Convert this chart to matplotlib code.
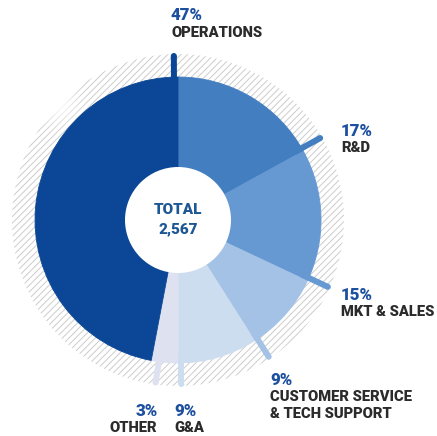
import numpy as np
import matplotlib
matplotlib.use("Agg")
import matplotlib.pyplot as plt
from matplotlib.patches import Circle, Polygon

# ---- data ----
categories = ["R&D", "MKT & SALES", "CUSTOMER SERVICE\n& TECH SUPPORT", "G&A", "OTHER", "OPERATIONS"]
shares = [17, 15, 9, 9, 3, 47]
pct_labels = ["17%", "15%", "9%", "9%", "3%", "47%"]
total_label = "TOTAL\n2,567"

# ---- style ----
colors = ["#427ec0", "#6699d2", "#a3c2e6", "#cdddf0", "#dee2f0", "#0b4796"]
pct_color = "#1c4f9f"
lab_color = "#2b2b2b"
total_color = "#1d5794"
FONT = "Roboto"

W, H = 437, 436
fig = plt.figure(figsize=(W / 100, H / 100), dpi=100)
ax = fig.add_axes([0, 0, 1, 1])

cx, cy = 178, H - 220
R_OUT, R_IN, R_HATCH = 143, 53, 166

# hatched background circle
clip = Circle((cx, cy), R_HATCH, transform=ax.transData, facecolor="none", edgecolor="none")
ax.add_patch(clip)
for c in np.arange(-240, 240, 6.6):
    xs = np.array([-R_HATCH - 5, R_HATCH + 5])
    ys = xs + c
    ln, = ax.plot(cx + xs, cy + ys, color="#c9c9c9", lw=0.65, zorder=1,
                  solid_capstyle="butt")
    ln.set_clip_path(clip)

# soft fade on the upper-left rim of the hatch
gx, gy = np.meshgrid(np.arange(W), np.arange(H))
d2 = (gx - 55) ** 2 + (gy - (H - 103)) ** 2
fade = np.zeros((H, W, 4))
fade[..., :3] = 1.0
fade[..., 3] = np.exp(-d2 / (2 * 14.0 ** 2))
ax.imshow(fade, extent=(0, W, 0, H), origin="lower", zorder=1.5, interpolation="bilinear")

# donut
wedges, _ = ax.pie(shares, colors=colors, startangle=90, counterclock=False,
                   radius=R_OUT, center=(cx, cy), wedgeprops=dict(linewidth=0.6))
for w, col in zip(wedges, colors):
    w.set_edgecolor(col)
    w.set_zorder(2)
ax.add_patch(Circle((cx, cy), R_IN, facecolor="white", edgecolor="none", zorder=4))

# leader lines along the end edge of each slice (drawn in pixel units)
cum = np.cumsum(shares) / np.sum(shares) * 360.0
extra = [0.0, 0.0, 0.0, 0.0, 1.8, 0.3]
half_w = 3.0
for e, off, col in zip(cum, extra, colors):
    ang = np.deg2rad(90 - e + off)
    u = np.array([np.cos(ang), np.sin(ang)])
    n = np.array([-u[1], u[0]])          # points into the slice
    base = np.array([cx, cy]) + (half_w + 0.3) * n
    r0, r1 = R_OUT - 8, 167.0 - half_w
    p0 = base + r0 * u
    p1 = base + r1 * u
    poly = np.array([p0 + half_w * n, p1 + half_w * n, p1 - half_w * n, p0 - half_w * n])
    ax.add_patch(Polygon(poly, closed=True, facecolor=col, edgecolor="none", zorder=3))
    ax.add_patch(Circle(tuple(p1), half_w, facecolor=col, edgecolor="none", zorder=3))

# texts
def T(x, ypx, s, color, ha="left", fs=10.6, fw="bold"):
    ax.text(x, H - ypx, s, color=color, fontsize=fs, fontweight=fw, family=FONT,
            ha=ha, va="center", zorder=5)

# (x, y of pct line, alignment)
label_pos = [(341, 130.7, "left"), (341, 294.5, "left"), (270, 379.5, "left"),
             (174, 410.8, "left"), (157.5, 410.8, "right"), (171, 15.5, "left")]
for (x, y, ha), p, name in zip(label_pos, pct_labels, categories):
    T(x, y, p, pct_color, ha, fs=12.2, fw=900)
    for k, line in enumerate(name.split("\n")):
        T(x, y + 17.5 + 17 * k, line, lab_color, ha, fw=900)

tl = total_label.split("\n")
T(cx, 210.5, tl[0], total_color, "center", fs=11, fw=900)
T(cx, 229.5, tl[1], total_color, "center", fs=11, fw=900)

ax.set_xlim(0, W)
ax.set_ylim(0, H)
ax.set_aspect("auto")
ax.axis("off")
fig.savefig("out.png", dpi=100, facecolor="white")
